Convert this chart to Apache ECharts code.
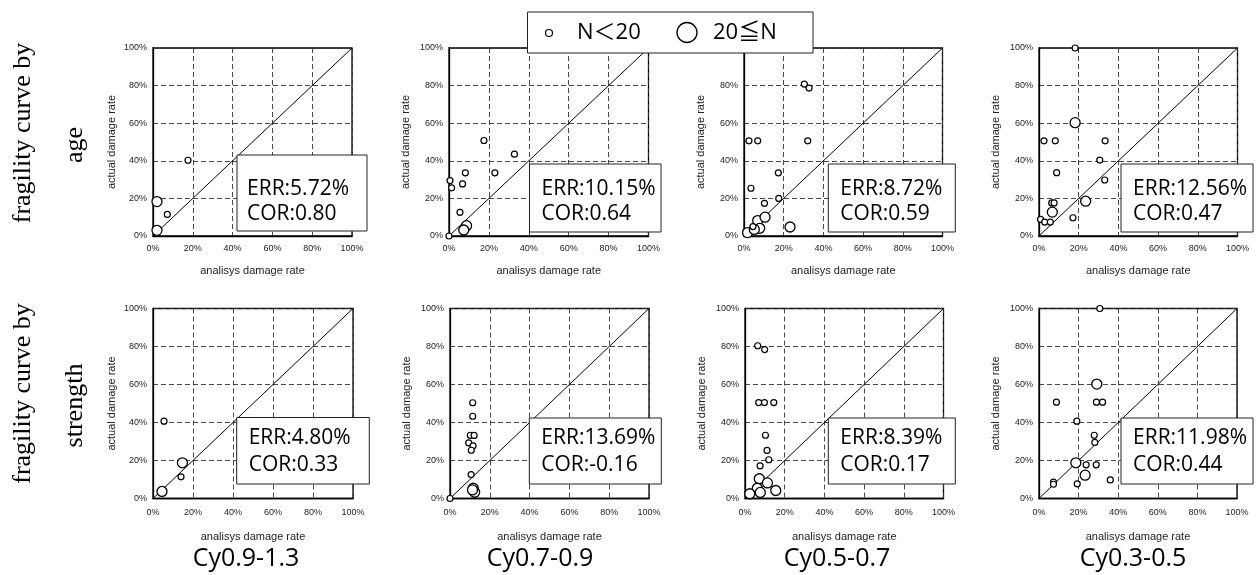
<!DOCTYPE html>
<html><head><meta charset="utf-8">
<script src="https://cdn.jsdelivr.net/npm/echarts@6/dist/echarts.min.js"></script>
<style>html,body{margin:0;padding:0;background:#fff}#c{width:1257px;height:575px}</style>
</head><body><div id="c"></div><script>
// ---- data ----
const categories = ['Cy0.9-1.3', 'Cy0.7-0.9', 'Cy0.5-0.7', 'Cy0.3-0.5'];
const rowLabels = [['fragility curve by', 'age'], ['fragility curve by', 'strength']];
const axisTicks = [0, 20, 40, 60, 80, 100];
const diagonal = [[0, 0], [100, 100]];
const smallName = 'N＜20';
const largeName = '20≦N';

// by age
const ageSmall1 = [[17.6, 40.3], [7.2, 11.5]];
const ageLarge1 = [[2, 18.3], [2, 3]];
const ageSmall2 = [[0.5, 29.5], [1.3, 25.6], [6.8, 27.7], [8.2, 33.6], [5.5, 12.6], [17.5, 50.8], [23, 33.6], [32.8, 43.5], [0, 0]];
const ageLarge2 = [[8.8, 5.5], [7.4, 3.2]];
const ageSmall3 = [[30.4, 80.8], [32.8, 78.7], [2.5, 50.6], [6.9, 50.6], [32.1, 50.6], [17.3, 33.6], [3.5, 25.4], [10.3, 17.4], [17.5, 20], [4.5, 5]];
const ageLarge3 = [[1.8, 1.8], [6.9, 8.2], [10.6, 10], [7.9, 4.1], [23.2, 4.8], [5.2, 3.5]];
const ageSmall4 = [[18.2, 100], [2.5, 50.6], [8.2, 50.6], [33.3, 50.6], [30.6, 40.4], [8.9, 33.7], [33.1, 29.8], [6.4, 17.6], [7.6, 17.6], [17.1, 9.7], [0.8, 8.8], [2.9, 7.4], [5.7, 7.4]];
const ageLarge4 = [[18.2, 60.3], [6.7, 12.7], [23.5, 18.5]];
// by strength
const strSmall1 = [[5.5, 40.7], [14, 11.4]];
const strLarge1 = [[14.7, 18.8], [4.5, 3.7]];
const strSmall2 = [[11.4, 50.4], [11.4, 43.3], [10.2, 33.3], [12.1, 33.2], [9.4, 29.3], [11.6, 27.7], [10.7, 25.4], [10.6, 12.6], [0, 0]];
const strLarge2 = [[11.7, 5.4], [12.4, 3.3], [11.3, 4.5]];
const strSmall3 = [[6.4, 80.4], [9.9, 78.4], [6.9, 50.5], [9.8, 50.5], [14.5, 50.5], [10.3, 33.3], [11.1, 25.3], [12, 20.4], [7.6, 17.2]];
const strLarge3 = [[7.2, 10.4], [6.2, 5.4], [2.4, 2.5], [7.7, 3.2], [11.3, 8.2], [15.5, 4.2]];
const strSmall4 = [[30.7, 100], [8.8, 50.7], [29, 50.7], [32.1, 50.7], [19.1, 40.7], [27.9, 33.3], [28.2, 29.5], [23.8, 17.7], [28.9, 17.7], [36, 9.8], [19.3, 7.7], [7.3, 8.6], [7.3, 7.5]];
const strLarge4 = [[29.2, 60.2], [18.6, 18.8], [23.3, 12.3]];

const ageErr = ['5.72%', '10.15%', '8.72%', '12.56%'];
const ageCor = ['0.80', '0.64', '0.59', '0.47'];
const strErr = ['4.80%', '13.69%', '8.39%', '11.98%'];
const strCor = ['0.33', '-0.16', '0.17', '0.44'];

// ---- layout ----
const smallSets = [[ageSmall1, ageSmall2, ageSmall3, ageSmall4], [strSmall1, strSmall2, strSmall3, strSmall4]];
const largeSets = [[ageLarge1, ageLarge2, ageLarge3, ageLarge4], [strLarge1, strLarge2, strLarge3, strLarge4]];
const errs = [ageErr, strErr];
const cors = [ageCor, strCor];

const gridTops = [48, 308.5];
const gridHeights = [188, 190];
const gridLefts = [[153, 449, 744, 1039], [153, 450, 745, 1039]];
const gridWidths = [[199, 199.5, 198.5, 198.5], [200, 199, 198.5, 198]];
const boxes = [
  [[237, 155, 130, 76], [529.5, 164, 131.5, 68], [828.3, 164, 127, 68], [1121, 164, 132, 68]],
  [[236.7, 417.5, 132.6, 66.5], [529.3, 418, 132, 66], [828.3, 418, 127, 66], [1121, 418, 132, 66]]
];
const textY = [[189, 214.5], [438.5, 465]];
const catX = [246, 540, 837, 1133];

const axFont = 'Liberation Sans, Arial, sans-serif';
const grids = [], xAxes = [], yAxes = [], series = [], graphics = [];

for (let r = 0; r < 2; r++) {
  for (let c = 0; c < 4; c++) {
    const idx = r * 4 + c;
    grids.push({left: gridLefts[r][c], top: gridTops[r], width: gridWidths[r][c], height: gridHeights[r],
      show: true, borderColor: '#000', borderWidth: 1.3, backgroundColor: 'transparent'});
    const common = {
      gridIndex: idx, type: 'value', min: axisTicks[0], max: axisTicks[axisTicks.length - 1],
      interval: axisTicks[1] - axisTicks[0],
      nameLocation: 'middle',
      nameTextStyle: {fontSize: 11, color: '#222', fontFamily: axFont},
      axisLine: {show: true, onZero: false, lineStyle: {color: '#000', width: 1.3}},
      axisTick: {show: false},
      splitLine: {show: true, lineStyle: {type: [5, 3], color: '#333', width: 0.9}}
    };
    xAxes.push(Object.assign({}, common, {
      name: 'analisys damage rate', nameGap: r === 0 ? 29 : 33,
      axisLabel: {formatter: '{value}%', fontSize: 9, color: '#222', fontFamily: axFont, margin: r === 0 ? 8 : 10}
    }));
    yAxes.push(Object.assign({}, common, {
      name: 'actual damage rate', nameGap: c === 0 ? 36 : 37.5, nameRotate: 90,
      axisLabel: {formatter: '{value}%', fontSize: 9, color: '#222', fontFamily: axFont, margin: 6}
    }));
    series.push({type: 'line', xAxisIndex: idx, yAxisIndex: idx, data: diagonal, symbol: 'none',
      silent: true, z: 1, lineStyle: {color: '#000', width: 1}});
    series.push({type: 'scatter', name: largeName, xAxisIndex: idx, yAxisIndex: idx, data: largeSets[r][c],
      symbolSize: 10, clip: false, z: 3, itemStyle: {color: '#fff', borderColor: '#000', borderWidth: 1.3, opacity: 1}});
    series.push({type: 'scatter', name: smallName, xAxisIndex: idx, yAxisIndex: idx, data: smallSets[r][c],
      symbolSize: 6, clip: false, z: 4, itemStyle: {color: '#fff', borderColor: '#000', borderWidth: 1.2, opacity: 1}});

    const b = boxes[r][c];
    const tx = b[0] + (idx === 0 ? 10 : 12);
    graphics.push({type: 'rect', z: 100, shape: {x: b[0], y: b[1], width: b[2], height: b[3]},
      style: {fill: '#fff', stroke: '#222', lineWidth: 1}});
    graphics.push({type: 'text', z: 101, x: tx, y: textY[r][0],
      style: {text: 'ERR:' + errs[r][c], font: '21px "Open Sans", sans-serif', fill: '#000', textVerticalAlign: 'middle'}});
    graphics.push({type: 'text', z: 101, x: tx, y: textY[r][1],
      style: {text: 'COR:' + cors[r][c], font: '21px "Open Sans", sans-serif', fill: '#000', textVerticalAlign: 'middle'}});
  }
}
// column labels
for (let c = 0; c < 4; c++) {
  graphics.push({type: 'text', z: 101, x: catX[c], y: 559,
    style: {text: categories[c], font: '25px "Open Sans", sans-serif', fill: '#000', textAlign: 'center', textVerticalAlign: 'middle'}});
}
// row labels
const rowCY = [[133, 145], [393.5, 405.5]];
const rowX = [23, 75];
for (let r = 0; r < 2; r++) {
  for (let l = 0; l < 2; l++) {
    graphics.push({type: 'text', z: 101, x: rowX[l], y: rowCY[r][l], rotation: Math.PI / 2,
      style: {text: rowLabels[r][l], font: '26px "Liberation Serif", "Times New Roman", serif', fill: '#000', textAlign: 'center', textVerticalAlign: 'middle'}});
  }
}
// legend
graphics.push({type: 'rect', z: 110, shape: {x: 527.5, y: 12, width: 285.5, height: 41}, style: {fill: '#fff', stroke: '#222', lineWidth: 1}});
graphics.push({type: 'circle', z: 111, shape: {cx: 549, cy: 33, r: 3.5}, style: {fill: '#fff', stroke: '#000', lineWidth: 1.2}});
graphics.push({type: 'circle', z: 111, shape: {cx: 687, cy: 32.5, r: 10}, style: {fill: '#fff', stroke: '#000', lineWidth: 1.3}});
graphics.push({type: 'text', z: 111, x: 577, y: 33, style: {text: smallName, font: '22px "Open Sans", "Noto Sans CJK JP", sans-serif', fill: '#000', textVerticalAlign: 'middle'}});
graphics.push({type: 'text', z: 111, x: 713, y: 33, style: {text: largeName, font: '22px "Open Sans", "Noto Sans CJK JP", sans-serif', fill: '#000', textVerticalAlign: 'middle'}});

const chart = echarts.init(document.getElementById('c'), null, {renderer: 'canvas'});
chart.setOption({
  animation: false,
  backgroundColor: '#fff',
  grid: grids, xAxis: xAxes, yAxis: yAxes, series: series, graphic: graphics
});
</script></body></html>
